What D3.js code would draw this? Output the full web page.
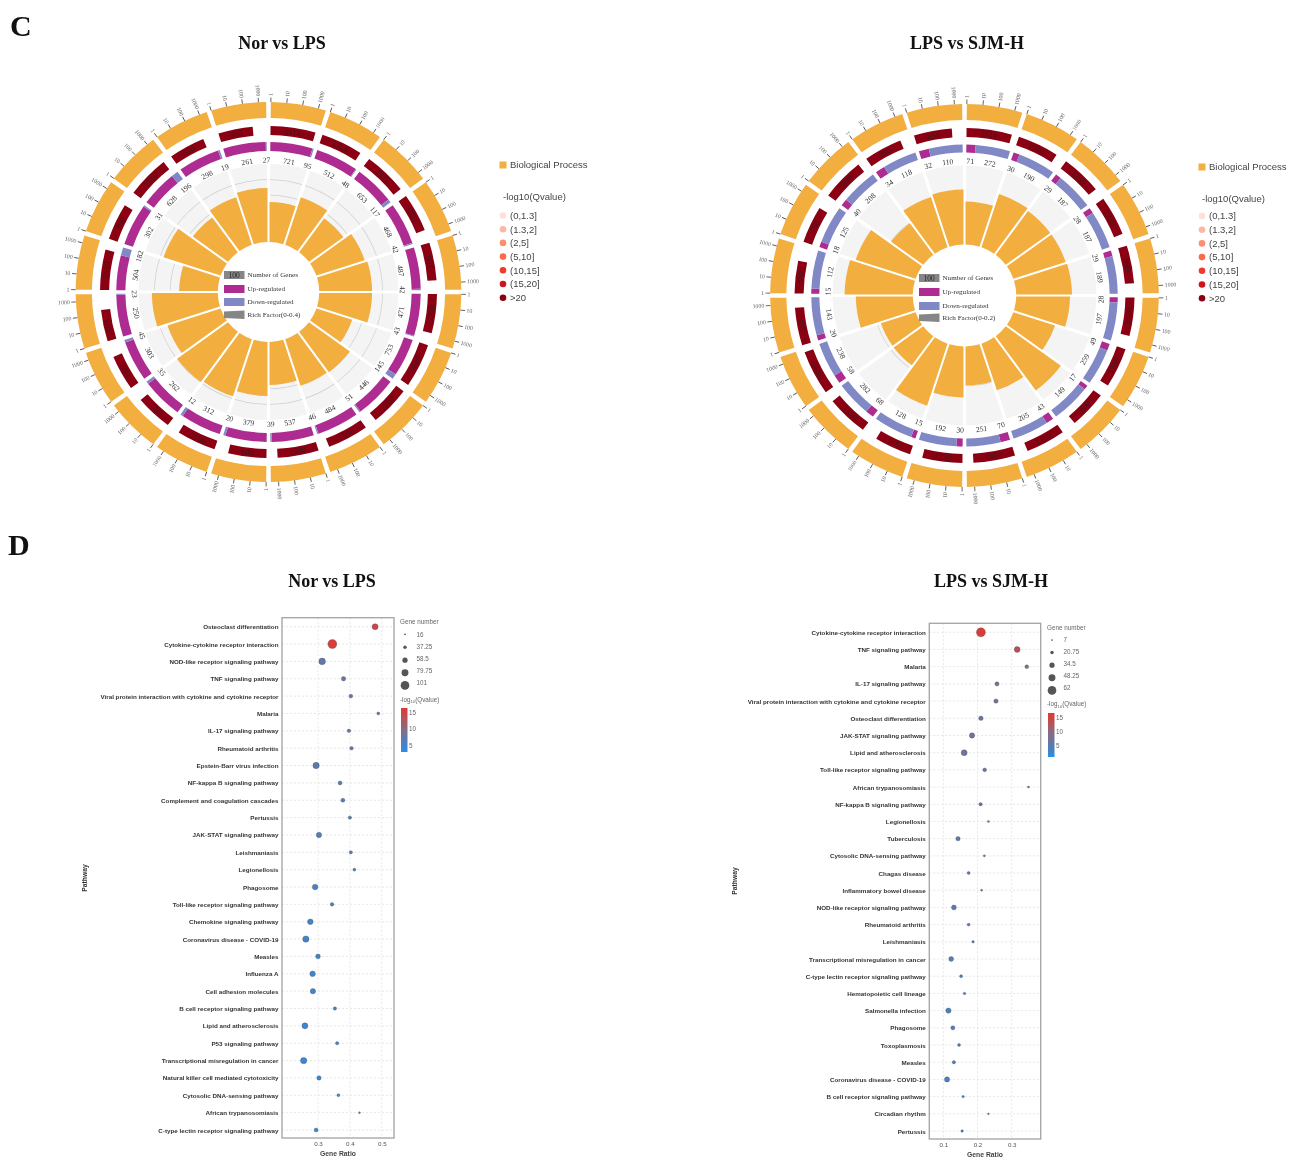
<!DOCTYPE html>
<html>
<head>
<meta charset="utf-8">
<script src="https://cdn.jsdelivr.net/npm/d3@7"></script>
<style>
  body { margin: 0; background: #fff; }
  svg { display: block; filter: blur(0.35px); }
  text { font-family: "Liberation Sans", Arial, sans-serif; }
  .serif, .serif text { font-family: "Liberation Serif", "Times New Roman", serif; }
</style>
</head>
<body>
<div id="chart"></div>
<script>
// circular GO charts, clockwise from the top
const norUp = [721, 512, 653, 468, 487, 471, 753, 446, 484, 537, 379, 312, 262, 303, 250, 504, 302, 628, 298, 261]
const norDown = [95, 48, 117, 42, 42, 43, 145, 51, 46, 39, 20, 12, 35, 45, 23, 182, 31, 196, 19, 27]
// 蓝色部分在原图里比标签数字窄，这里按图上读
const norDownShare = [0.03, 0.02, 0.08, 0.03, 0.03, 0.02, 0.12, 0.03, 0.03, 0.03, 0.05, 0.06, 0.06, 0.06, 0.02, 0.19, 0.03, 0.16, 0.04, 0.02]
const norTotal = [3114, 1724, 2375, 1021, 951, 1238, 2845, 1280, 1580, 1580, 940, 1100, 720, 590, 310, 1510, 760, 2150, 650, 480]
const norRich = [0.205, 0.256, 0.215, 0.256, 0.267, 0.267, 0.19, 0.256, 0.251, 0.22, 0.277, 0.308, 0.318, 0.282, 0.333, 0.195, 0.303, 0.22, 0.256, 0.277]

const sjmUp = [71, 30, 29, 28, 29, 28, 49, 17, 43, 70, 30, 15, 68, 58, 20, 15, 18, 40, 34, 32]
const sjmDown = [272, 190, 187, 187, 189, 197, 259, 149, 205, 251, 192, 128, 282, 238, 143, 112, 125, 208, 118, 110]
const sjmDownShare = [0.79, 0.86, 0.87, 0.87, 0.87, 0.88, 0.84, 0.9, 0.83, 0.78, 0.86, 0.9, 0.81, 0.8, 0.88, 0.88, 0.87, 0.84, 0.78, 0.77]
const sjmTotal = [3114, 1500, 1350, 1230, 890, 1000, 1280, 800, 1100, 1660, 1230, 690, 1580, 3050, 890, 350, 760, 2040, 890, 850]
const sjmRich = [0.109, 0.142, 0.137, 0.137, 0.139, 0.134, 0.109, 0.17, 0.124, 0.099, 0.129, 0.165, 0.091, 0.091, 0.142, 0.17, 0.157, 0.099, 0.134, 0.139]

const logTicks = [1, 10, 100, 1000]
const qLegend = ["(0,1.3]", "(1.3,2]", "(2,5]", "(5,10]", "(10,15]", "(15,20]", ">20"]
const qColors = ["#fde0d6", "#fcb9a2", "#fc8f6e", "#fb6a4a", "#ef3b2c", "#cb181d", "#8b0012"]
const centerLegend = ["Number of Genes", "Up-regulated", "Down-regulated"]

// bubble charts
const norPath = ["Osteoclast differentiation", "Cytokine-cytokine receptor interaction", "NOD-like receptor signaling pathway", "TNF signaling pathway", "Viral protein interaction with cytokine and cytokine receptor", "Malaria", "IL-17 signaling pathway", "Rheumatoid arthritis", "Epstein-Barr virus infection", "NF-kappa B signaling pathway", "Complement and coagulation cascades", "Pertussis", "JAK-STAT signaling pathway", "Leishmaniasis", "Legionellosis", "Phagosome", "Toll-like receptor signaling pathway", "Chemokine signaling pathway", "Coronavirus disease - COVID-19", "Measles", "Influenza A", "Cell adhesion molecules", "B cell receptor signaling pathway", "Lipid and atherosclerosis", "P53 signaling pathway", "Transcriptional misregulation in cancer", "Natural killer cell mediated cytotoxicity", "Cytosolic DNA-sensing pathway", "African trypanosomiasis", "C-type lectin receptor signaling pathway"]
const norRatio = [0.479, 0.345, 0.313, 0.38, 0.403, 0.489, 0.397, 0.405, 0.294, 0.369, 0.378, 0.4, 0.303, 0.403, 0.414, 0.291, 0.344, 0.276, 0.262, 0.3, 0.283, 0.284, 0.353, 0.259, 0.36, 0.255, 0.303, 0.364, 0.43, 0.294]
const norGenes = [66, 101, 73, 47, 40, 30, 37, 37, 70, 42, 42, 35, 58, 33, 30, 61, 37, 61, 70, 51, 61, 58, 35, 66, 33, 70, 47, 30, 18, 42]
const norQ = [14.5, 16, 7.5, 8, 7.8, 7.5, 7.3, 7.2, 7, 6.8, 6.7, 6.5, 6.3, 6, 5.8, 5.5, 5.3, 5.2, 5, 5, 4.8, 4.7, 4.6, 4.5, 4.4, 4.3, 4.2, 4.1, 4, 3.9]
const norSizes = [16, 37.25, 58.5, 79.75, 101]
const norRatioTicks = [0.3, 0.4, 0.5]

const sjmPath = ["Cytokine-cytokine receptor interaction", "TNF signaling pathway", "Malaria", "IL-17 signaling pathway", "Viral protein interaction with cytokine and cytokine receptor", "Osteoclast differentiation", "JAK-STAT signaling pathway", "Lipid and atherosclerosis", "Toll-like receptor signaling pathway", "African trypanosomiasis", "NF-kappa B signaling pathway", "Legionellosis", "Tuberculosis", "Cytosolic DNA-sensing pathway", "Chagas disease", "Inflammatory bowel disease", "NOD-like receptor signaling pathway", "Rheumatoid arthritis", "Leishmaniasis", "Transcriptional misregulation in cancer", "C-type lectin receptor signaling pathway", "Hematopoietic cell lineage", "Salmonella infection", "Phagosome", "Toxoplasmosis", "Measles", "Coronavirus disease - COVID-19", "B cell receptor signaling pathway", "Circadian rhythm", "Pertussis"]
const sjmRatio = [0.21, 0.316, 0.344, 0.257, 0.254, 0.21, 0.184, 0.161, 0.221, 0.349, 0.209, 0.232, 0.143, 0.22, 0.174, 0.212, 0.131, 0.174, 0.187, 0.123, 0.152, 0.162, 0.115, 0.128, 0.146, 0.131, 0.111, 0.158, 0.232, 0.155]
const sjmGenes = [62, 38, 22, 25, 27, 27, 34, 39, 22, 9, 19, 9, 27, 9, 16, 9, 31, 15, 12, 31, 16, 12, 34, 25, 16, 19, 33, 12, 7, 13]
const sjmQ = [16, 13.5, 9.5, 8.5, 8.5, 6.5, 7, 7, 6, 6, 5.8, 5.6, 5.5, 5.4, 5.2, 5, 5, 4.8, 4.6, 4.5, 4.4, 4.2, 4.2, 4, 4, 3.8, 3.8, 3.6, 3.6, 3.4]
const sjmSizes = [7, 20.75, 34.5, 48.25, 62]
const sjmRatioTicks = [0.1, 0.2, 0.3]

const qTicks = [15, 10, 5]
const rampColors = ["#2a8ee4", "#5a7ab0", "#8a6c80", "#dc3c38"]

const ORANGE = "#f2ae3f", PURPLE = "#ae2b91", BLUE = "#8088c5", DARKRED = "#8b0012"
const SECTOR = 18 // 每个扇区的角度
const PAD = 0.7
const rad = d => d * Math.PI / 180

const svg = d3.select("#chart").append("svg")
  .attr("width", 1289)
  .attr("height", 1157)

// text sitting along the ring, flipped on the bottom half
const tangent = (deg, r) => {
  const flip = deg > 90 && deg < 270 ? 180 : 0
  return `rotate(${deg}) translate(0,${-r}) rotate(${flip})`
}

const drawCircos = (opt) => {
  const g = svg.append("g")
    .attr("class", "serif")
    .attr("transform", `translate(${opt.cx},${opt.cy}) scale(1.015,1)`)
  const arc = d3.arc()
  const n = opt.up.length

  const rScale = d3.scaleLinear().domain([0, opt.richMax]).range([opt.inner, opt.bgOuter])
  // log scale inside one sector, given in degrees
  const outerDeg = d3.scaleLog().domain([1, 1000]).range([PAD, PAD + 14.3])
  const redDeg = d3.scaleLog().domain([1, 3114]).range([PAD, 16.2])

  d3.range(n).forEach(i => {
    const a0 = i * SECTOR
    // grey background and rich factor bar
    g.append("path")
      .attr("d", arc.padRadius(100).padAngle(0.032)({ innerRadius: opt.inner, outerRadius: opt.bgOuter, startAngle: rad(a0), endAngle: rad(a0 + SECTOR) }))
      .attr("fill", "#f4f4f4")
    opt.richTicks.forEach(t => {
      g.append("path")
        .attr("d", arc.padAngle(0.032)({ innerRadius: rScale(t) - 0.35, outerRadius: rScale(t) + 0.35, startAngle: rad(a0), endAngle: rad(a0 + SECTOR) }))
        .attr("fill", "#cfcfcf")
    })
    g.append("path")
      .attr("d", arc.padAngle(0.02)({ innerRadius: opt.inner, outerRadius: rScale(opt.rich[i]), startAngle: rad(a0), endAngle: rad(a0 + SECTOR) }))
      .attr("fill", ORANGE)
    arc.padAngle(0)

    // outer ring with its log ticks
    g.append("path")
      .attr("d", arc({ innerRadius: opt.ring[0], outerRadius: opt.ring[1], startAngle: rad(a0 + PAD), endAngle: rad(a0 + SECTOR - PAD) }))
      .attr("fill", ORANGE)
    logTicks.forEach(t => {
      const deg = a0 + outerDeg(t)
      const left = deg > 180
      g.append("line")
        .attr("transform", `rotate(${deg})`)
        .attr("y1", -opt.ring[1])
        .attr("y2", -opt.ring[1] - 4.5)
        .attr("stroke", "#444")
        .attr("stroke-width", 0.8)
      g.append("text")
        .attr("transform", `rotate(${deg - 90}) translate(${opt.ring[1] + 6},0) rotate(${left ? 180 : 0})`)
        .attr("text-anchor", left ? "end" : "start")
        .attr("dy", "0.32em")
        .attr("font-size", 5.8)
        .attr("fill", "#666")
        .text(t)
    })

    // total genes
    const redEnd = a0 + redDeg(opt.total[i])
    g.append("path")
      .attr("d", arc({ innerRadius: opt.red[0], outerRadius: opt.red[1], startAngle: rad(a0 + PAD), endAngle: rad(redEnd) }))
      .attr("fill", DARKRED)
    g.append("text")
      .attr("transform", tangent((a0 + PAD + redEnd) / 2, (opt.red[0] + opt.red[1]) / 2))
      .attr("text-anchor", "middle")
      .attr("dy", "0.34em")
      .attr("font-size", 8.5)
      .attr("fill", "#4a1418")
      .text(opt.total[i])

    // up and down regulated genes share the whole sector
    const share = d3.scaleLinear().domain([0, 1]).range([a0 + PAD, a0 + SECTOR - PAD])
    const split = share(1 - opt.downShare[i])
    g.append("path")
      .attr("d", arc({ innerRadius: opt.split[0], outerRadius: opt.split[1], startAngle: rad(a0 + PAD), endAngle: rad(split) }))
      .attr("fill", PURPLE)
    g.append("path")
      .attr("d", arc({ innerRadius: opt.split[0], outerRadius: opt.split[1], startAngle: rad(split), endAngle: rad(a0 + SECTOR - PAD) }))
      .attr("fill", BLUE)
    const labels = [[(a0 + PAD + split) / 2, opt.up[i]], [(split + a0 + SECTOR - PAD) / 2, opt.down[i]]]
    labels.forEach(l => {
      g.append("text")
        .attr("transform", tangent(l[0], opt.labelR))
        .attr("text-anchor", "middle")
        .attr("dy", "0.34em")
        .attr("font-size", 7.6)
        .attr("fill", "#333")
        .text(l[1])
    })
  })

  // legend in the middle
  const lg = svg.append("g").attr("class", "serif")
  opt.centerRows.forEach((y, i) => {
    if (i < 3) {
      lg.append("rect")
        .attr("x", opt.cLegendX).attr("y", y - 4)
        .attr("width", 20.5).attr("height", 8)
        .attr("fill", [("#868686"), PURPLE, BLUE][i])
    } else {
      lg.append("path")
        .attr("d", `M${opt.cLegendX},${y - 3.5}L${opt.cLegendX + 20.5},${y - 4.5}V${y + 4}L${opt.cLegendX},${y + 3}Z`)
        .attr("fill", "#868686")
    }
    lg.append("text")
      .attr("x", opt.cLegendX + 23.5).attr("y", y)
      .attr("dy", "0.34em")
      .attr("font-size", 7.1)
      .attr("fill", "#333")
      .text(i < 3 ? centerLegend[i] : `Rich Factor(0-${opt.richMax})`)
  })
  lg.append("text")
    .attr("x", opt.cLegendX + 10.2).attr("y", opt.centerRows[0])
    .attr("dy", "0.34em")
    .attr("text-anchor", "middle")
    .attr("font-size", 7.4)
    .attr("fill", "#222")
    .text("100")

  // right legend
  const rg = svg.append("g")
  rg.append("rect")
    .attr("x", opt.legendX - 3.5).attr("y", opt.legendY - 3.5)
    .attr("width", 7).attr("height", 7)
    .attr("fill", ORANGE)
  rg.append("text")
    .attr("x", opt.legendX + 7).attr("y", opt.legendY)
    .attr("dy", "0.35em")
    .attr("font-size", 9.5)
    .attr("fill", "#444")
    .text("Biological Process")
  rg.append("text")
    .attr("x", opt.legendX).attr("y", opt.legendY + 32)
    .attr("dy", "0.35em")
    .attr("font-size", 9.5)
    .attr("fill", "#444")
    .text("-log10(Qvalue)")
  qLegend.forEach((t, i) => {
    const y = opt.rowsY + i * 13.7
    rg.append("circle")
      .attr("cx", opt.legendX).attr("cy", y)
      .attr("r", 3.3)
      .attr("fill", qColors[i])
    rg.append("text")
      .attr("x", opt.legendX + 7).attr("y", y)
      .attr("dy", "0.35em")
      .attr("font-size", 9.5)
      .attr("fill", "#444")
      .text(t)
  })
}

const drawBubble = (opt) => {
  const g = svg.append("g")
  const x = d3.scaleLinear()
    .domain([opt.ratioTicks[0], opt.ratioTicks[2]])
    .range([opt.tickX[0], opt.tickX[1]])
  const y = d3.scalePoint().domain(opt.path).range([opt.rowY[0], opt.rowY[1]])
  const size = d3.scaleLinear().domain([opt.sizes[0], opt.sizes[4]]).range([0.9, 4.5])
  const color = d3.scaleLinear().domain(opt.qStops).range(rampColors)

  // 网格线
  opt.ratioTicks.forEach(t => {
    g.append("line")
      .attr("x1", x(t)).attr("x2", x(t))
      .attr("y1", opt.frame.top).attr("y2", opt.frame.bottom)
      .attr("stroke", "#ddd").attr("stroke-width", 0.7).attr("stroke-dasharray", "2,2")
  })
  opt.path.forEach(p => {
    g.append("line")
      .attr("x1", opt.frame.left).attr("x2", opt.frame.right)
      .attr("y1", y(p)).attr("y2", y(p))
      .attr("stroke", "#ddd").attr("stroke-width", 0.7).attr("stroke-dasharray", "2,2")
  })

  g.append("rect")
    .attr("x", opt.frame.left).attr("y", opt.frame.top)
    .attr("width", opt.frame.right - opt.frame.left)
    .attr("height", opt.frame.bottom - opt.frame.top)
    .attr("fill", "none")
    .attr("stroke", "#a8a8a8")
    .attr("stroke-width", 1.4)

  const yAxis = g.append("g")
    .attr("transform", `translate(${opt.frame.left - 3.5},0)`)
    .call(d3.axisLeft(y).tickSize(0).tickPadding(0))
  yAxis.select(".domain").remove()
  yAxis.selectAll("text")
    .attr("font-family", "'Liberation Sans', Arial, sans-serif")
    .attr("font-size", 6.25)
    .attr("font-weight", "bold")
    .attr("fill", "#333")

  const xAxis = g.append("g")
    .attr("transform", `translate(0,${opt.frame.bottom})`)
    .call(d3.axisBottom(x).tickValues(opt.ratioTicks).tickFormat(d3.format(".1f")).tickSize(0).tickPadding(4))
  xAxis.select(".domain").remove()
  xAxis.selectAll("text")
    .attr("font-family", "'Liberation Sans', Arial, sans-serif")
    .attr("font-size", 6.2)
    .attr("fill", "#555")

  g.append("text")
    .attr("x", opt.xLabelX).attr("y", opt.frame.bottom + 18)
    .attr("text-anchor", "middle")
    .attr("font-size", 6.8).attr("font-weight", "bold").attr("fill", "#444")
    .text("Gene Ratio")
  g.append("text")
    .attr("transform", `translate(${opt.yLabel[0]},${opt.yLabel[1]}) rotate(-90)`)
    .attr("text-anchor", "middle")
    .attr("font-size", 6.8).attr("font-weight", "bold").attr("fill", "#333")
    .text("Pathway")

  g.selectAll("circle.dot")
    .data(opt.path)
    .enter()
    .append("circle")
    .attr("class", "dot")
    .attr("cx", (d, i) => x(opt.ratio[i]))
    .attr("cy", d => y(d))
    .attr("r", (d, i) => size(opt.genes[i]))
    .attr("fill", (d, i) => color(opt.q[i]))
    .attr("stroke", "#444")
    .attr("stroke-opacity", 0.6)
    .attr("stroke-width", 0.5)

  // gene number legend
  const lx = opt.legendX
  g.append("text")
    .attr("x", lx).attr("y", opt.sizeRows[0] - 12.3)
    .attr("dy", "0.35em").attr("font-size", 6.3).attr("fill", "#666")
    .text("Gene number")
  opt.sizes.forEach((s, i) => {
    g.append("circle")
      .attr("cx", lx + 5).attr("cy", opt.sizeRows[i] + i * 0.6)
      .attr("r", size(s) * 0.96)
      .attr("fill", "#555")
    g.append("text")
      .attr("x", lx + 16.5).attr("y", opt.sizeRows[i])
      .attr("dy", "0.35em").attr("font-size", 6.3).attr("fill", "#666")
      .text(s)
  })

  const title = g.append("text")
    .attr("x", lx).attr("y", opt.qTitleY)
    .attr("dy", "0.35em").attr("font-size", 6.3).attr("fill", "#666")
  title.append("tspan").text("-log")
  title.append("tspan").attr("font-size", 4.2).attr("dy", 1.6).text("10")
  title.append("tspan").attr("dy", -1.6).text("(Qvalue)")

  // colour bar, built from the same ramp
  const barScale = d3.scaleLinear().domain(opt.barDomain).range(opt.barRange)
  const gradId = `ramp${opt.id}`
  const grad = svg.append("defs").append("linearGradient")
    .attr("id", gradId)
    .attr("x1", 0).attr("y1", 0).attr("x2", 0).attr("y2", 1)
  d3.range(0, 11).forEach(k => {
    const v = opt.barDomain[0] + (opt.barDomain[1] - opt.barDomain[0]) * k / 10
    grad.append("stop").attr("offset", k / 10).attr("stop-color", color(v))
  })
  g.append("rect")
    .attr("x", lx + 1).attr("y", opt.barRange[0])
    .attr("width", 6.5).attr("height", opt.barRange[1] - opt.barRange[0])
    .attr("fill", `url(#${gradId})`)
  qTicks.forEach(t => {
    g.append("text")
      .attr("x", lx + 9).attr("y", barScale(t))
      .attr("dy", "0.35em").attr("font-size", 6.3).attr("fill", "#666")
      .text(t)
  })
}

drawCircos({
  cx: 268.5, cy: 292, inner: 50, bgOuter: 128, richMax: 0.4, richTicks: [0.08, 0.16, 0.24, 0.32],
  ring: [174, 190], red: [157, 166], split: [141, 150], labelR: 132,
  up: norUp, down: norDown, downShare: norDownShare, total: norTotal, rich: norRich,
  centerRows: [275, 289, 302, 315], cLegendX: 224, legendX: 503, legendY: 165, rowsY: 215.5
})
drawCircos({
  cx: 964.5, cy: 295.5, inner: 51, bgOuter: 130, richMax: 0.2, richTicks: [0.1],
  ring: [175.5, 191.5], red: [158.5, 167.5], split: [143, 151], labelR: 134.5,
  up: sjmUp, down: sjmDown, downShare: sjmDownShare, total: sjmTotal, rich: sjmRich,
  centerRows: [278, 292, 306, 318], cLegendX: 919, legendX: 1202, legendY: 167, rowsY: 216
})

drawBubble({
  id: "A", path: norPath, ratio: norRatio, genes: norGenes, q: norQ, sizes: norSizes, ratioTicks: norRatioTicks,
  tickX: [318, 381.8], rowY: [626.7, 1130], frame: { left: 282, right: 394, top: 617.7, bottom: 1138 },
  qStops: [3, 7, 10, 16], legendX: 400, sizeRows: [634.3, 646.7, 659, 671, 683], qTitleY: 699.3,
  barDomain: [16.5, 3], barRange: [708, 752], xLabelX: 338, yLabel: [87, 878]
})
drawBubble({
  id: "B", path: sjmPath, ratio: sjmRatio, genes: sjmGenes, q: sjmQ, sizes: sjmSizes, ratioTicks: sjmRatioTicks,
  tickX: [943.3, 1011.7], rowY: [632.3, 1131], frame: { left: 929.3, right: 1040.7, top: 623.3, bottom: 1139 },
  qStops: [1.5, 5, 10, 16], legendX: 1047, sizeRows: [640, 652, 664, 676, 688], qTitleY: 704,
  barDomain: [16.8, 1.1], barRange: [713, 757], xLabelX: 985, yLabel: [737, 881]
})

// panel letters and titles
const titles = [["C", 10, 36, 30, "start"], ["D", 8, 555, 30, "start"],
  ["Nor vs LPS", 282, 49, 18, "middle"], ["LPS vs SJM-H", 967, 49, 18, "middle"],
  ["Nor vs LPS", 332, 587, 18, "middle"], ["LPS vs SJM-H", 991, 587, 18, "middle"]]
svg.append("g").attr("class", "serif")
  .selectAll("text")
  .data(titles)
  .enter()
  .append("text")
  .attr("x", d => d[1])
  .attr("y", d => d[2])
  .attr("font-size", d => d[3])
  .attr("text-anchor", d => d[4])
  .attr("font-weight", "bold")
  .attr("fill", "#111")
  .text(d => d[0])
</script>
</body>
</html>
